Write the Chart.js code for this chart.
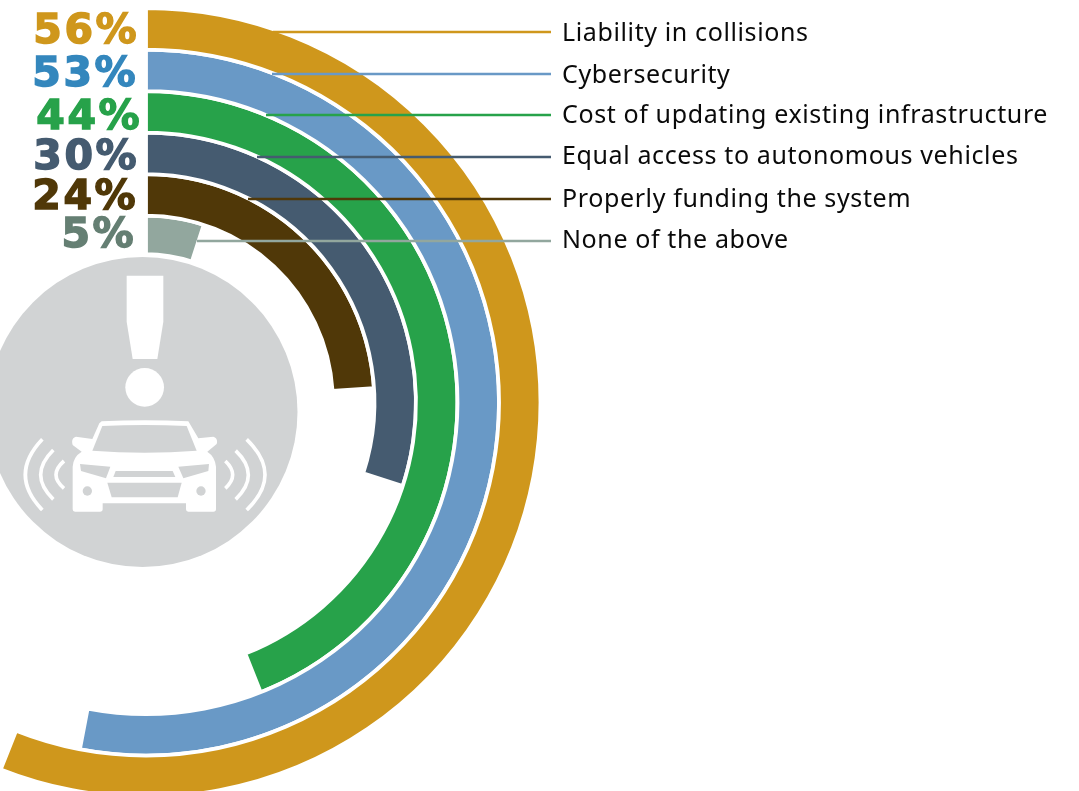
<!DOCTYPE html>
<html>
<head>
<meta charset="utf-8">
<title>Concerns about autonomous vehicles</title>
<script src="https://cdn.jsdelivr.net/npm/chart.js@4"></script>
<style>
  html, body { margin:0; padding:0; background:#fff; width:1079px; height:791px; overflow:hidden; }
  #icon, #chart { position:absolute; left:0; top:0; }
</style>
</head>
<body>
<!-- car icon sits behind the rings, coordinates are taken from a 3x crop -->
<svg id="icon" width="1079" height="791" viewBox="0 0 1079 791">
  <circle cx="142.5" cy="412" r="155" fill="#d1d3d4"/>
  <g transform="translate(0,260) scale(0.33333)">
    <path fill="#fff" d="M380 47H490V185L472 297H398L380 185Z"/>
    <circle fill="#fff" cx="434" cy="382" r="58"/>
    <path fill="#fff" d="M305 484Q434 478 565 484L595 535L640 530Q655 535 650 552L622 575Q645 590 648 620V748Q648 755 640 755H565Q558 755 558 748V730H308V748Q308 755 300 755H225Q218 755 218 748V620Q220 590 245 575L218 555Q212 535 228 530L277 537L298 490Z"/>
    <g fill="#d1d3d4">
      <path d="M307 498Q434 492 560 498L590 572Q434 585 277 572Z"/>
      <path d="M240 612L331 620L318 655L243 633Z"/>
      <path d="M627 612L535 620L550 655L625 633Z"/>
      <path d="M347 633H518L526 651H340Z"/>
      <path d="M322 668H545L533 712H335Z"/>
      <circle cx="262" cy="693" r="14"/>
      <circle cx="603" cy="693" r="14"/>
    </g>
    <g fill="none" stroke="#fff" stroke-width="11">
      <path d="M127 538Q25 645 127 750"/>
      <path d="M160 570Q84 645 160 718"/>
      <path d="M192 603Q144 645 192 685"/>
      <path d="M740 538Q850 645 740 750"/>
      <path d="M707 572Q783 645 707 718"/>
      <path d="M676 603Q720 645 676 685"/>
    </g>
  </g>
</svg>
<canvas id="chart" width="1079" height="791"></canvas>
<script>
// ========== Data ==========
const categories = ['Liability in collisions','Cybersecurity','Cost of updating existing infrastructure','Equal access to autonomous vehicles','Properly funding the system','None of the above'];
const values = [56,53,44,30,24,5];

// ========== Styles ==========
const ringColors = ['#cf971c','#6999c6','#27a24a','#455b70','#503808','#92a79e'];
const pctColors = ['#cf971c','#3487bd','#27a24a','#455b70','#503808','#657f73'];
const ringWeights = [41.6,41.6,41.6,41.6,41.6,38.6];

// label layout
const leaderY = [32,74,115,157,199,241];
const leaderStartX = [273,272,266,257,248,197];
const labelBaseline = [41,83,123,164,207,248];
const pctBaseline = [43,86,129,169,209,247];
const pctRight = [139,138,142,139,138,136];

const centerX = 146, centerY = 402.6;
const gap = 3.8;
const outerRadius = 392.6 + gap/2, innerRadius = 148.4;

const labelsPlugin = {
  id:'ringLabels',
  afterDatasetsDraw(chart){
    const ctx = chart.ctx;
    ctx.save();
    categories.forEach((name,i)=>{
      // leader line
      ctx.strokeStyle = ringColors[i];
      ctx.lineWidth = 2.6;
      ctx.beginPath();
      ctx.moveTo(leaderStartX[i], leaderY[i]);
      ctx.lineTo(551, leaderY[i]);
      ctx.stroke();
      // category name
      ctx.fillStyle = '#0a0a0a';
      ctx.font = '25px "Noto Sans"';
      ctx.letterSpacing = '0.62px';
      ctx.textAlign = 'left';
      ctx.textBaseline = 'alphabetic';
      ctx.fillText(name, 562, labelBaseline[i]);
      // big percentage, stroked a little to get the heavy look
      ctx.fillStyle = pctColors[i];
      ctx.strokeStyle = pctColors[i];
      ctx.lineWidth = 1.5;
      ctx.font = 'bold 41px "DejaVu Sans"';
      ctx.letterSpacing = '2.5px';
      ctx.textAlign = 'right';
      ctx.fillText(values[i] + '%', pctRight[i], pctBaseline[i]);
      ctx.strokeText(values[i] + '%', pctRight[i], pctBaseline[i]);
    });
    ctx.restore();
  }
};

const chart = new Chart(document.getElementById('chart'), {
  type:'doughnut',
  data:{
    labels:['Share','Rest'],
    datasets: values.map((v,i)=>({
      data:[v, 100-v],
      backgroundColor:[ringColors[i],'rgba(0,0,0,0)'],
      borderColor:['#fff','rgba(0,0,0,0)'],
      borderWidth:[gap,0],
      weight:ringWeights[i],
      clip:false
    }))
  },
  options:{
    responsive:false,
    animation:false,
    radius:outerRadius,
    cutout:(innerRadius/outerRadius*100)+'%',
    // chart area is only there to put the doughnut centre in the right place
    layout:{ padding:{ left:0, right:1079-centerX*2, top:centerY*2-791, bottom:0 } },
    plugins:{ legend:{ display:false }, tooltip:{ enabled:false } }
  },
  plugins:[labelsPlugin]
});
</script>
</body>
</html>
